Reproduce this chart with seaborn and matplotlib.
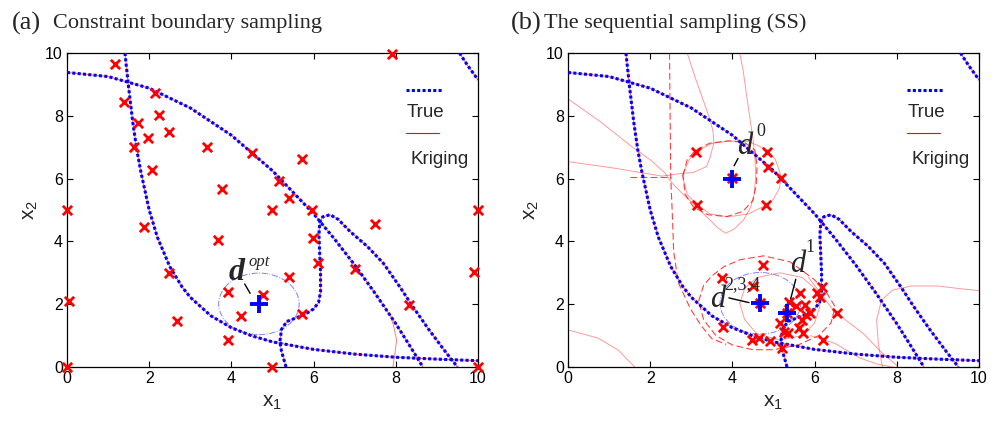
import matplotlib
matplotlib.use("Agg")
import matplotlib.pyplot as plt
from matplotlib.patches import Ellipse
import seaborn as sns

sns.set_theme(style="ticks")
plt.rcParams['font.family'] = ['Liberation Sans', 'DejaVu Sans']
plt.rcParams['mathtext.fontset'] = 'custom'
plt.rcParams['mathtext.rm'] = 'Liberation Sans'
plt.rcParams['mathtext.it'] = 'Liberation Sans:italic'

# --- true constraint boundaries (same in both panels)
g1_x = [1.41, 1.5, 1.6, 1.7, 1.8, 2.0, 2.2, 2.5, 2.8, 3.0, 3.5, 4.0, 4.5, 5.0, 6.0, 7.0, 8.0, 9.0, 10.0]
g1_y = [10.0, 8.9, 7.8, 6.9, 6.2, 5.0, 4.13, 3.2, 2.55, 2.22, 1.63, 1.25, 0.99, 0.8, 0.56, 0.41, 0.31, 0.25, 0.2]
g3_x = [0, 1, 2, 3, 4, 5, 6, 6.5, 7, 7.5, 8, 8.3, 8.66]
g3_y = [9.38, 9.25, 8.88, 8.25, 7.38, 6.25, 4.88, 4.09, 3.25, 2.34, 1.38, 0.76, 0]
g2_x = [5.33, 5.22, 5.18, 5.22, 5.35, 5.55, 5.8, 6.0, 6.12, 6.17, 6.17, 6.15, 6.13, 6.15, 6.22,
        6.4, 6.6, 6.9, 7.3, 7.7, 8.1, 8.4, 8.8, 9.2, 9.5]
g2_y = [0, 0.5, 0.8, 1.2, 1.45, 1.55, 1.68, 1.85, 2.05, 2.4, 3.0, 3.6, 4.2, 4.6, 4.78,
        4.85, 4.7, 4.3, 3.85, 3.3, 2.55, 1.95, 1.2, 0.5, 0]
g2b_x = [9.55, 9.75, 10.0]
g2b_y = [10.0, 9.6, 9.15]
true_curves = [(g1_x, g1_y), (g3_x, g3_y), (g2_x, g2_y), (g2b_x, g2b_y)]

# --- panel (a): constraint boundary sampling
a_samp_x = [1.17, 1.39, 1.72, 1.64, 1.96, 2.13, 2.23, 2.49, 2.06, 1.88, 2.47, 2.67, 0, 0.04, 0,
            3.41, 3.77, 3.68, 3.91, 4.23, 3.91, 4.76, 4.49, 5.17, 5.41, 5.0, 5.41, 5.0,
            5.73, 5.97, 5.98, 6.11, 5.73, 7.0, 7.49, 8.32, 7.91, 10.0, 9.9, 10.0]
a_samp_y = [9.66, 8.44, 7.78, 7.01, 7.30, 8.74, 8.02, 7.49, 6.27, 4.47, 2.99, 1.45, 5.0, 2.09, 0,
            7.01, 5.67, 4.03, 2.40, 1.61, 0.85, 2.30, 6.82, 5.92, 5.39, 5.0, 2.88, 0,
            6.64, 5.0, 4.10, 3.31, 1.69, 3.11, 4.54, 1.98, 9.96, 5.0, 3.04, 0]
a_krig_x = [7.93, 7.98, 8.02, 7.95, 7.88]
a_krig_y = [0, 0.45, 0.85, 1.3, 1.6]
d_opt = (4.67, 2.01)
region_r = 0.98

# --- panel (b): sequential sampling
b_samp_x = [3.12, 3.14, 4.84, 4.86, 5.18, 4.83, 3.99,
            4.74, 3.75, 3.77, 4.5, 4.68, 4.48, 4.64, 4.91, 5.21, 5.17, 5.25, 5.35, 5.37,
            5.56, 5.65, 5.77, 5.80, 5.69, 5.61, 5.72, 5.90, 6.06, 6.18, 6.12, 6.2, 6.55, 5.33]
b_samp_y = [6.86, 5.16, 6.84, 6.38, 6.01, 5.16, 6.01,
            3.25, 2.82, 1.26, 2.58, 2.03, 0.86, 0.91, 0.84, 0.59, 1.39, 1.13, 1.07, 2.08,
            1.94, 2.35, 1.97, 1.66, 1.50, 1.23, 1.07, 1.71, 2.35, 2.56, 2.24, 0.86, 1.71, 1.71]
d0 = (4.0, 6.0)
d1 = (5.34, 1.71)
d234 = (4.68, 2.03)

# kriging contours of panel (b), thin lines
b_thin = [
    ([0, 0.8, 1.55, 2.0, 2.36, 2.53, 2.8, 3.13, 3.4, 3.65, 3.84, 4.05, 4.27, 4.45, 4.53, 4.57,
      4.55, 4.5, 4.44, 4.33, 4.26, 4.18],
     [8.54, 7.8, 7.02, 6.6, 6.18, 5.86, 5.5, 5.1, 4.75, 4.43, 4.26, 4.4, 4.68, 5.1, 5.5, 6.1,
      6.6, 7.3, 7.8, 8.8, 9.46, 10.0]),
    ([2.9, 3.1, 3.29, 3.45, 3.53, 3.55, 3.45, 3.37, 3.04, 2.8, 2.28, 1.14, 0],
     [10.0, 9.2, 8.5, 7.9, 7.5, 7.13, 6.65, 6.38, 6.19, 6.17, 6.08, 6.33, 6.54]),
    ([2.78, 2.95, 3.12, 3.5, 3.9, 4.4, 4.84, 5.05, 5.18, 5.15, 5.0, 4.83, 4.4, 3.9, 3.45, 3.14, 2.9, 2.78],
     [6.1, 6.6, 6.86, 7.12, 7.2, 7.18, 6.92, 6.6, 6.1, 5.7, 5.35, 5.16, 4.88, 4.78, 4.88, 5.16, 5.5, 6.1]),
    ([4.18, 4.3, 4.6, 5.16, 5.7, 6.05, 6.13, 6.0, 5.7, 5.16, 4.6, 4.3, 4.18],
     [2.03, 2.5, 2.85, 3.0, 2.85, 2.45, 1.92, 1.4, 1.0, 0.86, 1.05, 1.5, 2.03]),
    ([5.85, 6.15, 6.4, 6.8, 7.2, 7.6, 8.0, 8.02],
     [2.85, 2.35, 1.9, 1.45, 1.05, 0.5, 0.05, 0]),
    ([5.9, 6.5, 7.1, 7.5, 7.9],
     [1.0, 0.75, 0.29, 0.1, 0]),
    ([10.0, 9.5, 9.0, 8.36, 7.9, 7.63, 7.51, 7.55, 7.65],
     [2.43, 2.5, 2.58, 2.58, 2.45, 2.13, 1.5, 0.76, 0]),
    ([0, 0.73, 1.22, 1.58, 1.62],
     [1.18, 0.92, 0.54, 0.06, 0]),
]
# kriging contours of panel (b), drawn darker / dashed
b_dash = [
    ([2.47, 2.5, 2.55, 2.57, 2.68, 2.98, 3.25, 3.5, 3.85],
     [10.0, 6.06, 4.5, 3.7, 2.7, 1.85, 1.3, 0.9, 0.72]),
    ([1.51, 2.5], [6.06, 6.06]),
    ([2.8, 2.9, 3.1, 3.45, 3.9, 4.3, 4.55, 4.6, 4.58, 4.5, 4.25, 3.86, 3.4, 3.05, 2.85, 2.8],
     [6.1, 6.6, 6.9, 7.13, 7.2, 7.15, 6.9, 6.4, 5.8, 5.3, 4.95, 4.79, 4.85, 5.1, 5.5, 6.1]),
    ([3.18, 3.3, 3.5, 3.8, 4.2, 4.76, 5.4, 5.98, 6.3, 6.5, 6.4, 6.1, 5.6, 5.0, 4.5, 4.0, 3.6, 3.3, 3.18],
     [2.1, 2.6, 2.9, 3.2, 3.42, 3.54, 3.35, 2.8, 2.35, 1.92, 1.4, 1.0, 0.7, 0.55, 0.55, 0.7, 1.0, 1.5, 2.1]),
]

BLUE = '#0000ff'
RED = '#ff0000'


def curve(ax, xs, ys, **kw):
    sns.lineplot(x=xs, y=ys, sort=False, estimator=None, ax=ax, **kw)


def draw_true(ax):
    for xs, ys in true_curves:
        curve(ax, xs, ys, color=RED, lw=0.8, alpha=0.6, zorder=2)
        curve(ax, xs, ys, color=BLUE, lw=2.2, linestyle=(0, (1.0, 0.75)), zorder=3)


def style_axes(ax):
    ax.set_xlim(0, 10)
    ax.set_ylim(0, 10)
    ax.set_xticks(range(0, 11, 2))
    ax.set_yticks(range(0, 11, 2))
    ax.tick_params(direction='in', top=True, right=True, length=4, width=0.8,
                   labelsize=11.5, colors='black', pad=3)
    for s in ax.spines.values():
        s.set_color('black')
        s.set_linewidth(0.9)
    ax.set_xlabel(r'$\mathrm{x}_{\mathit{1}}$', fontsize=15, labelpad=5)
    ax.set_ylabel(r'$\mathrm{x}_{\mathit{2}}$', fontsize=15, labelpad=4)
    # legend: key line above its label, as in the original figure
    ax.plot([0.826, 0.915], [0.883, 0.883], transform=ax.transAxes, color=BLUE,
            lw=2.2, linestyle=(0, (1.0, 0.75)))
    ax.text(0.826, 0.809, 'True', transform=ax.transAxes, va='center', fontsize=13.5)
    ax.plot([0.826, 0.905], [0.744, 0.744], transform=ax.transAxes, color=RED, lw=0.8)
    ax.text(0.835, 0.661, 'Kriging', transform=ax.transAxes, va='center', fontsize=13.5)


def label_d(ax, dpos, sup, suppos, line, bold=False, size=22, supsize=13):
    ax.text(*dpos, 'd', family='Liberation Serif', style='italic',
            weight='bold' if bold else 'normal', fontsize=size, ha='center', va='center', zorder=7)
    ax.text(*suppos, sup, family='Liberation Serif', style='italic' if bold else 'normal',
            fontsize=supsize, ha='center', va='center', zorder=7)
    ax.annotate('', xy=line[1], xytext=line[0],
                arrowprops=dict(arrowstyle='-', lw=1.0, color='black'), zorder=7)


fig = plt.figure(figsize=(9.97, 4.21), dpi=100)
ax_a = fig.add_axes([0.0672, 0.1283, 0.4122, 0.7458])
ax_b = fig.add_axes([0.5697, 0.1283, 0.4122, 0.7458])

# panel (a)
draw_true(ax_a)
curve(ax_a, a_krig_x, a_krig_y, color=RED, lw=0.7, alpha=0.5, zorder=2)
ax_a.add_patch(Ellipse(d_opt, 2 * region_r, 2 * region_r, fill=False, ec='#8080ff',
                       lw=0.7, ls='-.', zorder=2))
sns.scatterplot(x=a_samp_x, y=a_samp_y, marker='x', color=RED, s=45, linewidth=2.0,
                ax=ax_a, clip_on=False, zorder=5)
sns.scatterplot(x=[d_opt[0]], y=[d_opt[1]], marker='+', color=BLUE, s=170, linewidth=2.8,
                ax=ax_a, zorder=6)
label_d(ax_a, (4.12, 3.0), 'opt', (4.68, 3.35), [(4.29, 2.72), (4.49, 2.27)],
        bold=True, size=23, supsize=12)
style_axes(ax_a)

# panel (b)
draw_true(ax_b)
for xs, ys in b_thin:
    curve(ax_b, xs, ys, color=RED, lw=0.7, alpha=0.4, zorder=2)
for xs, ys in b_dash:
    curve(ax_b, xs, ys, color=RED, lw=0.8, alpha=0.75, linestyle=(0, (6, 3)), zorder=2)
ax_b.add_patch(Ellipse(d234, 2 * region_r, 2 * region_r, fill=False, ec='#8080ff',
                       lw=0.7, ls='-.', zorder=2))
sns.scatterplot(x=b_samp_x, y=b_samp_y, marker='x', color=RED, s=45, linewidth=2.0,
                ax=ax_b, clip_on=False, zorder=5)
sns.scatterplot(x=[d0[0], d1[0], d234[0]], y=[d0[1], d1[1], d234[1]], marker='+', color=BLUE,
                s=170, linewidth=2.8, ax=ax_b, zorder=6)
label_d(ax_b, (4.3, 7.02), '0', (4.7, 7.5), [(4.17, 6.72), (4.01, 6.33)])
label_d(ax_b, (5.6, 3.25), '1', (5.88, 3.8), [(5.56, 2.88), (5.40, 2.08)])
label_d(ax_b, (3.65, 2.14), '2,3,4', (4.25, 2.63), [(3.85, 2.22), (4.47, 2.03)])
style_axes(ax_b)

# panel titles
fig.text(0.012, 0.945, '(a)', family='Liberation Serif', fontsize=19, va='center')
fig.text(0.053, 0.945, 'Constraint boundary sampling', family='Liberation Serif',
         fontsize=16, va='center')
fig.text(0.512, 0.945, '(b)', family='Liberation Serif', fontsize=19, va='center')
fig.text(0.546, 0.945, 'The sequential sampling (SS)', family='Liberation Serif',
         fontsize=16, va='center')

fig.savefig('out.png', dpi=100)
